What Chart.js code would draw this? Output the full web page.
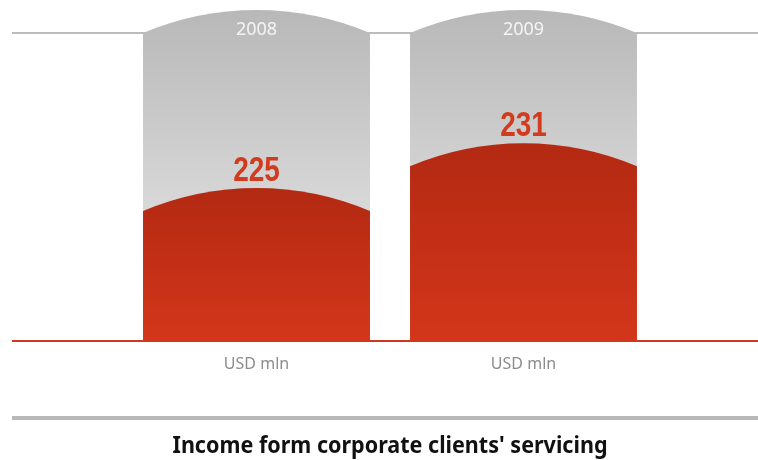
<!DOCTYPE html>
<html>
<head>
<meta charset="utf-8">
<script src="https://cdn.jsdelivr.net/npm/chart.js@4.4.0/dist/chart.umd.min.js"></script>
<style>
  html, body { margin: 0; padding: 0; background: #ffffff; }
  #wrap { width: 758px; height: 460px; }
</style>
</head>
<body>
<div id="wrap"><canvas id="c" width="758" height="460"></canvas></div>
<script>
// Data
const years = ['2008', '2009'];
const income = [225, 231];
const unitLabel = 'USD mln';
const chartTitle = "Income form corporate clients' servicing";

// Value axis range (the columns start from a cropped baseline)
const axisMin = 204.6;
const axisMax = 245.7;

const BULGE = 23; // height of the rounded cap on every column

// Path of a column whose cap is a circular arc peaking at `peak`
function cappedColumn(ctx, left, right, peak, bottom) {
  const half = (right - left) / 2;
  const cx = left + half;
  const sideY = peak + BULGE;
  const r = (half * half + BULGE * BULGE) / (2 * BULGE);
  const cy = peak + r;
  const a = Math.asin(half / r);
  ctx.beginPath();
  ctx.moveTo(left, bottom);
  ctx.lineTo(left, sideY);
  ctx.arc(cx, cy, r, -Math.PI / 2 - a, -Math.PI / 2 + a, false);
  ctx.lineTo(right, bottom);
  ctx.closePath();
}

const capsulePlugin = {
  id: 'capsules',
  beforeDatasetsDraw(chart) {
    const { ctx, chartArea } = chart;
    const W = chart.width;
    ctx.save();
    // upper guide line
    ctx.fillStyle = '#bcbcbc';
    ctx.fillRect(12, chartArea.top - 1, W - 12, 2);
    // grey tracks behind each column
    const meta = chart.getDatasetMeta(0);
    meta.data.forEach((el) => {
      const left = el.x - el.width / 2, right = el.x + el.width / 2;
      const g = ctx.createLinearGradient(0, chartArea.top - BULGE, 0, chartArea.bottom);
      g.addColorStop(0, '#b8b8b8');
      g.addColorStop(0.6, '#d8d8d8');
      g.addColorStop(1, '#dcdcdc');
      ctx.fillStyle = g;
      cappedColumn(ctx, left, right, chartArea.top - BULGE, chartArea.bottom);
      ctx.fill();
    });
    ctx.restore();
  },
  afterDatasetsDraw(chart) {
    const { ctx, chartArea } = chart;
    const W = chart.width;
    const meta = chart.getDatasetMeta(0);
    ctx.save();
    meta.data.forEach((el, i) => {
      const left = el.x - el.width / 2, right = el.x + el.width / 2;
      // red column
      const g = ctx.createLinearGradient(0, el.y, 0, chartArea.bottom);
      g.addColorStop(0, '#b32912');
      g.addColorStop(1, '#d3361a');
      ctx.fillStyle = g;
      cappedColumn(ctx, left, right, el.y, chartArea.bottom);
      ctx.fill();

      // value above the cap
      ctx.save();
      ctx.translate(el.x, el.y - 7);
      ctx.scale(0.8, 1);
      ctx.font = 'bold 35px "Liberation Sans Narrow", "Liberation Sans", sans-serif';
      ctx.fillStyle = '#d23c1e';
      ctx.textAlign = 'center';
      ctx.textBaseline = 'alphabetic';
      ctx.fillText(String(income[i]), 0, 0);
      ctx.restore();

      // year inside the grey cap
      ctx.font = '18px "Noto Sans", sans-serif';
      ctx.fillStyle = '#f4f4f4';
      ctx.textAlign = 'center';
      ctx.textBaseline = 'alphabetic';
      ctx.fillText(years[i], el.x, chartArea.top + 2);

      // unit under the column
      ctx.font = '16px "Noto Sans", sans-serif';
      ctx.fillStyle = '#8c8c8c';
      ctx.fillText(unitLabel, el.x, chartArea.bottom + 28);
    });

    // baseline
    ctx.fillStyle = '#d0391b';
    ctx.fillRect(12, chartArea.bottom - 1, W - 12, 2);

    // lower separator
    ctx.fillStyle = '#b8b8b8';
    ctx.fillRect(12, chartArea.bottom + 75, W - 12, 4);

    // title
    ctx.font = 'bold 24px "Noto Sans", sans-serif';
    const tw = ctx.measureText(chartTitle).width;
    const target = 435;
    const cx = (chartArea.left + chartArea.right) / 2;
    ctx.translate(cx, chartArea.bottom + 112);
    ctx.scale(target / tw, 1);
    ctx.fillStyle = '#111111';
    ctx.textAlign = 'center';
    ctx.fillText(chartTitle, 0, 0);
    ctx.restore();
  }
};

new Chart(document.getElementById('c'), {
  type: 'bar',
  data: {
    labels: years,
    datasets: [{
      label: unitLabel,
      data: income,
      backgroundColor: 'rgba(0,0,0,0)',
      borderWidth: 0,
      barPercentage: 0.85,
      categoryPercentage: 1.0
    }]
  },
  options: {
    responsive: false,
    animation: false,
    devicePixelRatio: 1,
    layout: { padding: { left: 123, right: 101, top: 33, bottom: 119 } },
    plugins: { legend: { display: false }, tooltip: { enabled: false }, title: { display: false } },
    scales: {
      x: { display: false, offset: true },
      y: { display: false, min: axisMin, max: axisMax }
    }
  },
  plugins: [capsulePlugin]
});
</script>
</body>
</html>
